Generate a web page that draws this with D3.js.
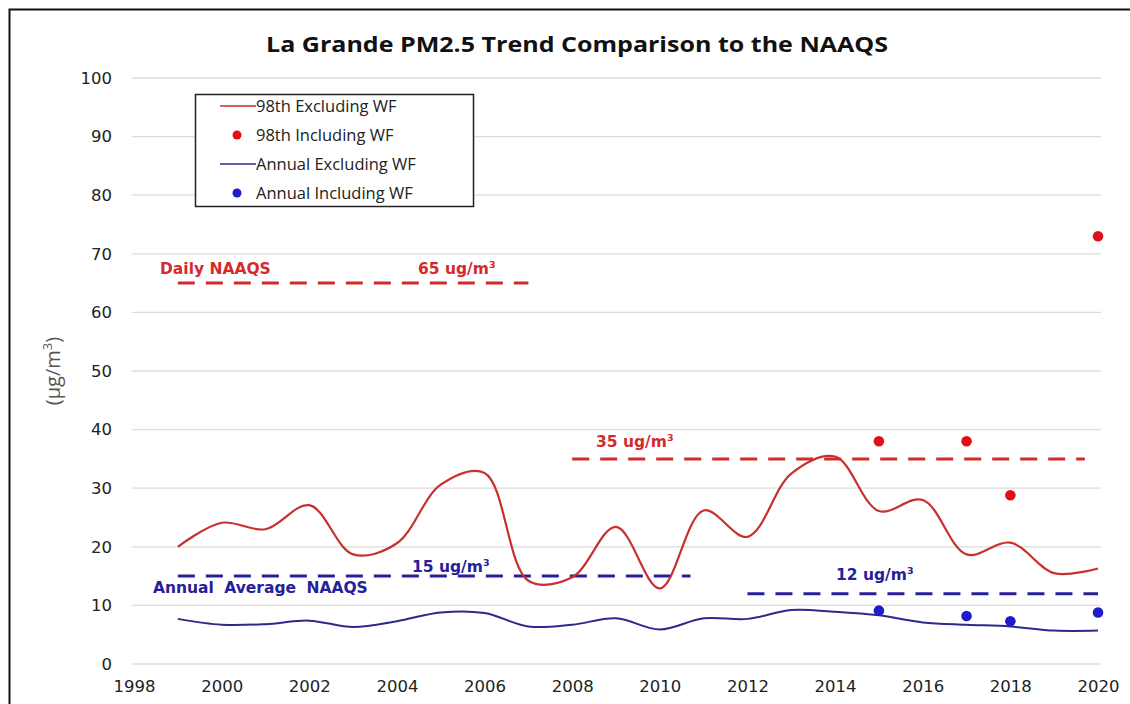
<!DOCTYPE html>
<html>
<head>
<meta charset="utf-8">
<script src="https://cdn.jsdelivr.net/npm/d3@7"></script>
<style>
  body { margin: 0; background: #fff; }
  svg { display: block; }
</style>
</head>
<body>
<svg width="1130" height="704"></svg>
<script>
const years = d3.range(1999, 2021);
const pct98Excl = [20, 24.1, 23, 27.1, 18.7, 20.6, 30.6, 32.6, 14.2, 14.8, 23.4, 12.9, 26.2, 21.7, 32.5, 35.4, 26.1, 28, 18.7, 20.7, 15.5, 16.3];
const annualExcl = [7.7, 6.7, 6.8, 7.4, 6.3, 7.3, 8.8, 8.7, 6.4, 6.7, 7.8, 5.9, 7.8, 7.7, 9.2, 8.9, 8.3, 7.1, 6.7, 6.4, 5.7, 5.7];
const wfYears = [2015, 2017, 2018, 2020];
const pct98Incl = [38, 38, 28.8, 73];
const annualIncl = [9.1, 8.2, 7.3, 8.8];
const yTicks = [0, 10, 20, 30, 40, 50, 60, 70, 80, 90, 100];
const xTicks = [1998, 2000, 2002, 2004, 2006, 2008, 2010, 2012, 2014, 2016, 2018, 2020];
// standards: value, from year, to year
const naaqs = [
  {value: 65, from: 1999, to: 2007, color: '#d42a2a'},
  {value: 35, from: 2008, to: 2019.7, color: '#d42a2a'},
  {value: 15, from: 1999, to: 2010.7, color: '#26209a'},
  {value: 12, from: 2012, to: 2020, color: '#26209a'}
];

const svg = d3.select('svg');
const x = d3.scaleLinear().domain([1998, 2020]).range([134, 1098]);
const y = d3.scaleLinear().domain([0, 100]).range([664, 78]);

// outer frame
svg.append('rect').attr('x', 9.5).attr('y', 9.5).attr('width', 1200).attr('height', 800)
  .attr('fill', 'none').attr('stroke', '#111').attr('stroke-width', 2);

// gridlines
svg.append('g').selectAll('line').data(yTicks).enter().append('line')
  .attr('x1', x(1998) - 2).attr('x2', x(2020) + 3)
  .attr('y1', d => y(d)).attr('y2', d => y(d))
  .attr('stroke', '#dcdcdc').attr('stroke-width', 1.3);

// axes
const yAxis = svg.append('g').attr('transform', 'translate(122,0)')
  .call(d3.axisLeft(y).tickValues(yTicks).tickSize(0).tickPadding(10));
const xAxis = svg.append('g').attr('transform', 'translate(0,675)')
  .call(d3.axisBottom(x).tickValues(xTicks).tickFormat(d3.format('d')).tickSize(0).tickPadding(5));
[yAxis, xAxis].forEach(a => {
  a.select('.domain').remove();
  a.selectAll('text').attr('font-family', 'DejaVu Sans, sans-serif')
    .attr('font-size', 16.5).attr('fill', '#222');
});

// title
svg.append('text').attr('x', 577).attr('y', 52).attr('text-anchor', 'middle')
  .attr('font-family', 'Open Sans, sans-serif').attr('font-weight', 'bold')
  .attr('font-size', 22).attr('fill', '#111')
  .attr('textLength', 622).attr('lengthAdjust', 'spacingAndGlyphs')
  .text('La Grande PM2.5 Trend Comparison to the NAAQS');

// y axis title
const yt = svg.append('text').attr('transform', 'translate(60,371) rotate(-90)')
  .attr('text-anchor', 'middle').attr('font-family', 'Open Sans, sans-serif')
  .attr('font-size', 20).attr('fill', '#555');
yt.append('tspan').text('(µg/m');
yt.append('tspan').attr('dy', -8).attr('font-size', 13).text('3');
yt.append('tspan').attr('dy', 8).text(')');

// standard lines
svg.append('g').selectAll('line').data(naaqs).enter().append('line')
  .attr('x1', d => x(d.from)).attr('x2', d => x(d.to))
  .attr('y1', d => y(d.value)).attr('y2', d => y(d.value))
  .attr('stroke', d => d.color).attr('stroke-width', 3)
  .attr('stroke-dasharray', '17,11');

// standard labels
function label(tx, ty, txt, sup, color) {
  const t = svg.append('text').attr('x', tx).attr('y', ty)
    .attr('font-family', 'DejaVu Sans, sans-serif').attr('font-weight', 'bold')
    .attr('font-size', 15.5).attr('fill', color).text(txt);
  if (sup) t.append('tspan').attr('dy', -6).attr('font-size', 9.5).text(sup);
  return t;
}
label(160, 274, 'Daily NAAQS', null, '#d42a2a');
label(418, 274, '65 ug/m', '3', '#d42a2a');
label(596, 447, '35 ug/m', '3', '#d42a2a');
label(412, 572, '15 ug/m', '3', '#26209a');
label(836, 580, '12 ug/m', '3', '#26209a');
label(153, 593, 'Annual Average NAAQS', null, '#26209a').attr('word-spacing', 5);

// smoothed lines
const line = vals => d3.line().x((d, i) => x(years[i])).y(d => y(d))
  .curve(d3.curveCatmullRom.alpha(0.5))(vals);
svg.append('path').attr('d', line(pct98Excl)).attr('fill', 'none')
  .attr('stroke', '#c8302f').attr('stroke-width', 2.2);
svg.append('path').attr('d', line(annualExcl)).attr('fill', 'none')
  .attr('stroke', '#2b2a8c').attr('stroke-width', 2);

// wildfire points
svg.append('g').selectAll('circle').data(pct98Incl).enter().append('circle')
  .attr('cx', (d, i) => x(wfYears[i])).attr('cy', d => y(d)).attr('r', 5.3)
  .attr('fill', '#e0101a');
svg.append('g').selectAll('circle').data(annualIncl).enter().append('circle')
  .attr('cx', (d, i) => x(wfYears[i])).attr('cy', d => y(d)).attr('r', 5.3)
  .attr('fill', '#1c1cc8');

// legend
const legend = svg.append('g');
legend.append('rect').attr('x', 195.5).attr('y', 94.5).attr('width', 278).attr('height', 112)
  .attr('fill', '#fff').attr('stroke', '#222').attr('stroke-width', 1.5);
const legItems = [
  {name: '98th Excluding WF', type: 'line', color: '#cc2b2b'},
  {name: '98th Including WF', type: 'dot', color: '#e0101a'},
  {name: 'Annual Excluding WF', type: 'line', color: '#2b2a8c'},
  {name: 'Annual Including WF', type: 'dot', color: '#1c1cc8'}
];
legItems.forEach((d, i) => {
  const ly = 106 + i * 29;
  if (d.type == 'line') {
    legend.append('line').attr('x1', 220).attr('x2', 256).attr('y1', ly).attr('y2', ly)
      .attr('stroke', d.color).attr('stroke-width', 1.5);
  } else {
    legend.append('circle').attr('cx', 237).attr('cy', ly).attr('r', 4.5).attr('fill', d.color);
  }
  legend.append('text').attr('x', 256).attr('y', ly + 5.5)
    .attr('font-family', 'Open Sans, sans-serif').attr('font-size', 16.5).attr('fill', '#222')
    .text(d.name);
});
</script>
</body>
</html>
